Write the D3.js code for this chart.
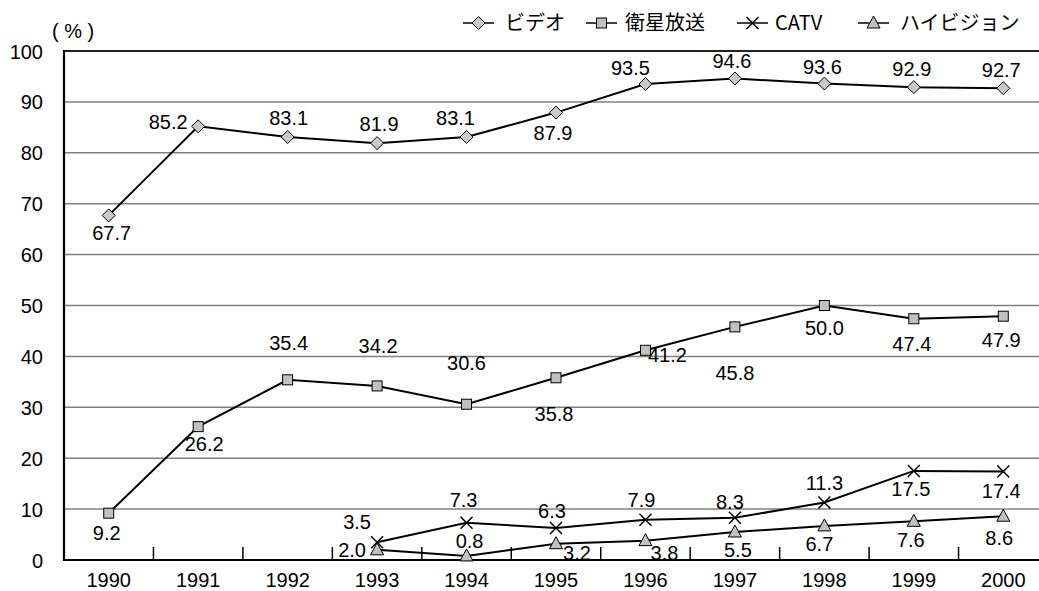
<!DOCTYPE html>
<html>
<head>
<meta charset="utf-8">
<script src="https://cdn.jsdelivr.net/npm/d3@7"></script>
<style>
  html, body { margin: 0; padding: 0; background: #fff; }
  svg { display: block; }
  text { font-family: "Liberation Sans", Arial, "Noto Sans CJK JP", sans-serif; fill: #000; }
  .jp { font-family: "Noto Sans CJK JP", "Liberation Sans", sans-serif; }
</style>
</head>
<body>
<svg id="chart" width="1039" height="591"></svg>
<script>
// 年次
const years = ["1990", "1991", "1992", "1993", "1994", "1995", "1996", "1997", "1998", "1999", "2000"];
// 各機器の普及率(%)
const video     = [67.7, 85.2, 83.1, 81.9, 83.1, 87.9, 93.5, 94.6, 93.6, 92.9, 92.7];
const satellite = [9.2, 26.2, 35.4, 34.2, 30.6, 35.8, 41.2, 45.8, 50.0, 47.4, 47.9];
const catv      = [null, null, null, 3.5, 7.3, 6.3, 7.9, 8.3, 11.3, 17.5, 17.4];
const hivision  = [null, null, null, 2.0, 0.8, 3.2, 3.8, 5.5, 6.7, 7.6, 8.6];
const seriesNames = ["ビデオ", "衛星放送", "CATV", "ハイビジョン"];
const yTicks = [0, 10, 20, 30, 40, 50, 60, 70, 80, 90, 100];

// データラベルの位置 [dx, dy](マーカー中心からのずれ)
const videoLabelPos = [[3, 18], [-30, -4], [1, -19], [2, -19], [-11, -19], [-3, 20], [-15, -16], [-3, -17], [-2, -17], [-2, -18], [-2, -18]];
const satLabelPos   = [[-2, 20], [6, 17], [1, -37], [1, -40], [0, -41], [-2, 36], [22, 5], [0, 46], [0, 22], [-2, 25], [-2, 24]];
const catvLabelPos  = [null, null, null, [-20, -20], [-3, -23], [-4, -17], [-4, -20], [-5, -16], [0, -19], [-3, 18], [-2, 20]];
const hiLabelPos    = [null, null, null, [-25, 0], [3, -15], [21, 9], [19, 12], [3, 18], [-5, 18], [-3, 19], [-4, 22]];

const svg = d3.select("#chart");
const margin = { left: 64, top: 51, bottom: 560, right: 1048 };

const x = d3.scaleBand().domain(years).range([margin.left, margin.right]).padding(0);
const y = d3.scaleLinear().domain([0, 100]).range([margin.bottom, margin.top]);
const cx = d => x(d) + x.bandwidth() / 2;

// 目盛線
svg.append("g")
  .selectAll("line")
  .data(yTicks.filter(t => t > 0))
  .join("line")
  .attr("x1", margin.left).attr("x2", margin.right)
  .attr("y1", d => y(d)).attr("y2", d => y(d))
  .attr("stroke", d => d === 100 ? "#222" : "#808080")
  .attr("stroke-width", d => d === 100 ? 2 : 1.5);

// Y軸ラベル
const yAxis = d3.axisLeft(y).tickValues(yTicks).tickSize(0).tickPadding(21);
const gy = svg.append("g").attr("transform", `translate(${margin.left},0)`).call(yAxis);
gy.select(".domain").remove();
gy.selectAll("text").attr("font-size", 20).attr("dy", "0.35em")
  .style("font-family", '"Liberation Sans", Arial, sans-serif');

// X軸(区切り目盛は内向き)
const gx = svg.append("g").attr("transform", `translate(0,${margin.bottom})`);
gx.selectAll("line.tick")
  .data(years.slice(1))
  .join("line")
  .attr("class", "tick")
  .attr("x1", d => x(d)).attr("x2", d => x(d))
  .attr("y1", 0).attr("y2", -13)
  .attr("stroke", "#000").attr("stroke-width", 1.5);
const xAxis = d3.axisBottom(x).tickSize(0).tickPadding(13);
const gxl = svg.append("g").attr("transform", `translate(0,${margin.bottom})`).call(xAxis);
gxl.select(".domain").remove();
gxl.selectAll("text").attr("font-size", 20)
  .style("font-family", '"Liberation Sans", Arial, sans-serif');

// 軸線
svg.append("line").attr("x1", margin.left).attr("x2", margin.left)
  .attr("y1", margin.top - 1).attr("y2", margin.bottom + 1)
  .attr("stroke", "#000").attr("stroke-width", 2.2);
svg.append("line").attr("x1", margin.left - 1).attr("x2", margin.right)
  .attr("y1", margin.bottom).attr("y2", margin.bottom)
  .attr("stroke", "#000").attr("stroke-width", 2.2);

// 単位
svg.append("text").attr("x", 52).attr("y", 38).attr("font-size", 20)
  .style("font-family", '"Liberation Sans", Arial, sans-serif')
  .attr("xml:space", "preserve").text("( % )");

// マーカー
const markerFns = {
  diamond: (g) => g.append("path").attr("d", "M0,-6.5L6.5,0L0,6.5L-6.5,0Z")
    .attr("fill", "#c8c8c8").attr("stroke", "#000").attr("stroke-width", 1),
  square: (g) => g.append("rect").attr("x", -5).attr("y", -5).attr("width", 10).attr("height", 10)
    .attr("fill", "#c0c0c0").attr("stroke", "#000").attr("stroke-width", 1),
  cross: (g) => g.append("path").attr("d", "M-6,-6L6,6M-6,6L6,-6")
    .attr("fill", "none").attr("stroke", "#000").attr("stroke-width", 1.5),
  triangle: (g) => g.append("path").attr("d", "M0,-7L6.5,5L-6.5,5Z")
    .attr("fill", "#c0c0c0").attr("stroke", "#000").attr("stroke-width", 1)
};

const series = [
  { name: seriesNames[0], values: video, marker: "diamond", labels: videoLabelPos },
  { name: seriesNames[1], values: satellite, marker: "square", labels: satLabelPos },
  { name: seriesNames[2], values: catv, marker: "cross", labels: catvLabelPos },
  { name: seriesNames[3], values: hivision, marker: "triangle", labels: hiLabelPos }
];

const line = d3.line()
  .defined(d => d.v !== null)
  .x(d => cx(d.year))
  .y(d => y(d.v));

series.forEach(s => {
  const pts = years.map((yr, i) => ({ year: yr, v: s.values[i], pos: s.labels[i] }));
  svg.append("path").datum(pts).attr("d", line)
    .attr("fill", "none").attr("stroke", "#000").attr("stroke-width", 2);
  const valid = pts.filter(p => p.v !== null);
  valid.forEach(p => {
    const g = svg.append("g").attr("transform", `translate(${cx(p.year)},${y(p.v)})`);
    markerFns[s.marker](g);
  });
  svg.append("g").selectAll("text")
    .data(valid)
    .join("text")
    .attr("x", p => cx(p.year) + p.pos[0])
    .attr("y", p => y(p.v) + p.pos[1])
    .attr("dy", "0.35em")
    .attr("text-anchor", "middle")
    .attr("font-size", 20)
    .style("font-family", '"Liberation Sans", Arial, sans-serif')
    .text(p => p.v.toFixed(1));
});

// 凡例
const legendX = [463, 586, 737, 858];
const legend = svg.append("g");
series.forEach((s, i) => {
  const g = legend.append("g").attr("transform", `translate(${legendX[i]},23)`);
  g.append("line").attr("x1", 0).attr("x2", 31).attr("y1", 0).attr("y2", 0)
    .attr("stroke", "#000").attr("stroke-width", 1.5);
  const m = g.append("g").attr("transform", "translate(15.5,0)");
  markerFns[s.marker](m);
  g.append("text").attr("class", "jp").attr("x", i === 2 ? 38 : (i === 1 ? 39 : 42)).attr("y", 0)
    .attr("dy", "0.36em").attr("font-size", 20)
    .text(s.name);
});
</script>
</body>
</html>
